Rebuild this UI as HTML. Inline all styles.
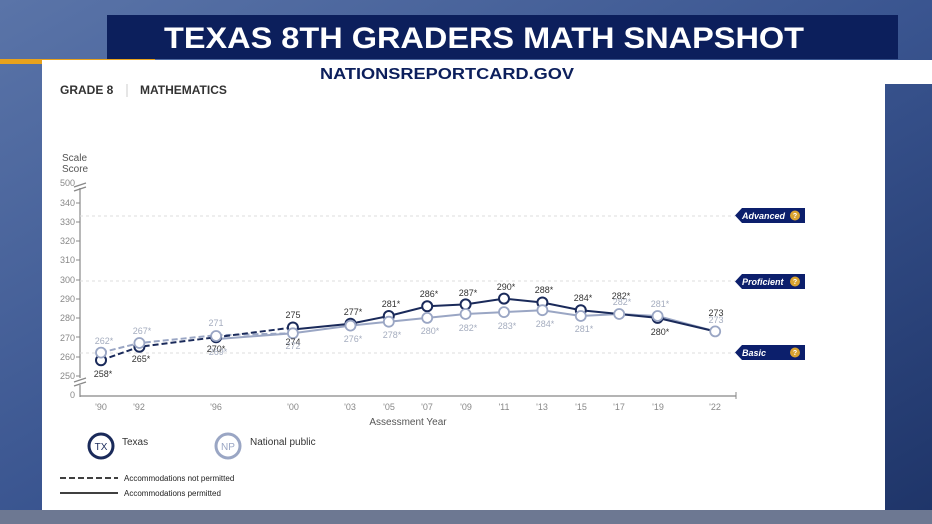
<!DOCTYPE html>
<html><head><meta charset="utf-8"><style>
html,body{margin:0;padding:0;width:932px;height:524px;overflow:hidden}
svg{display:block}
text{font-family:"Liberation Sans",sans-serif}
</style></head><body>
<svg width="932" height="524" viewBox="0 0 932 524" xmlns="http://www.w3.org/2000/svg">
<defs>
<linearGradient id="bg" x1="0" y1="0" x2="1" y2="1">
<stop offset="0" stop-color="#5a74a8"/><stop offset="0.5" stop-color="#3a5590"/><stop offset="1" stop-color="#1e3468"/>
</linearGradient>
</defs>
<rect width="932" height="524" fill="url(#bg)"/>
<rect x="0" y="510" width="932" height="14" fill="#6d7892"/>
<rect x="107" y="15" width="791" height="44" fill="#0c1f5c"/>
<text x="484" y="48" text-anchor="middle" font-size="30" font-weight="bold" fill="#fff" textLength="640" lengthAdjust="spacingAndGlyphs">TEXAS 8TH GRADERS MATH SNAPSHOT</text>
<rect x="0" y="59" width="155" height="5" fill="#e8a21c"/>
<rect x="42" y="60" width="890" height="24" fill="#fff"/>
<rect x="42" y="60" width="843" height="450" fill="#fff"/>
<text x="447" y="79" text-anchor="middle" font-size="16" font-weight="bold" fill="#0c1f5c" textLength="254" lengthAdjust="spacingAndGlyphs">NATIONSREPORTCARD.GOV</text>
<text x="60" y="94" font-size="12" font-weight="bold" fill="#333">GRADE 8</text>
<line x1="127" y1="84" x2="127" y2="97" stroke="#ccc"/>
<text x="140" y="94" font-size="12" font-weight="bold" fill="#333">MATHEMATICS</text>
<text x="62" y="161" font-size="10" fill="#555">Scale</text>
<text x="62" y="172" font-size="10" fill="#555">Score</text>
<!-- axes -->
<g stroke="#888" stroke-width="1.2" fill="none">
<line x1="80" y1="188" x2="80" y2="378"/>
<line x1="80" y1="385" x2="80" y2="397"/>
<line x1="80" y1="396" x2="736" y2="396"/>
<path d="M74 187 L86 183 M74 191 L86 187"/>
<path d="M74 382 L86 378 M74 386 L86 382"/>
</g>
<g font-size="9" fill="#888" text-anchor="end">
<text x="75" y="186">500</text><text x="75" y="206">340</text><text x="75" y="225">330</text><text x="75" y="244">320</text><text x="75" y="263">310</text><text x="75" y="283">300</text><text x="75" y="302">290</text><text x="75" y="321">280</text><text x="75" y="341">270</text><text x="75" y="360">260</text><text x="75" y="379">250</text><text x="75" y="398">0</text>
</g>
<g stroke="#888"><line x1="76" y1="203" x2="80" y2="203"/><line x1="76" y1="222" x2="80" y2="222"/><line x1="76" y1="241" x2="80" y2="241"/><line x1="76" y1="260" x2="80" y2="260"/><line x1="76" y1="280" x2="80" y2="280"/><line x1="76" y1="299" x2="80" y2="299"/><line x1="76" y1="318" x2="80" y2="318"/><line x1="76" y1="337" x2="80" y2="337"/><line x1="76" y1="357" x2="80" y2="357"/><line x1="76" y1="376" x2="80" y2="376"/><line x1="736" y1="392" x2="736" y2="399"/></g>
<g font-size="9" fill="#888" text-anchor="middle">
<text x="101" y="410">'90</text><text x="139" y="410">'92</text><text x="216" y="410">'96</text><text x="293" y="410">'00</text><text x="350" y="410">'03</text><text x="389" y="410">'05</text><text x="427" y="410">'07</text><text x="466" y="410">'09</text><text x="504" y="410">'11</text><text x="542" y="410">'13</text><text x="581" y="410">'15</text><text x="619" y="410">'17</text><text x="658" y="410">'19</text><text x="715" y="410">'22</text>
</g>
<text x="408" y="425" text-anchor="middle" font-size="10" fill="#555">Assessment Year</text>
<!-- level lines -->
<g stroke="#ddd" stroke-dasharray="3,3"><line x1="80" y1="216" x2="735" y2="216"/><line x1="80" y1="281" x2="735" y2="281"/><line x1="80" y1="353" x2="735" y2="353"/></g>
<g font-size="9" font-weight="bold" font-style="italic" fill="#fff">
<path d="M742 208 H805 V223 H742 L735 215.5 Z" fill="#0c1f6c"/><text x="742" y="219">Advanced</text>
<path d="M742 274 H805 V289 H742 L735 281.5 Z" fill="#0c1f6c"/><text x="742" y="285">Proficient</text>
<path d="M742 345 H805 V360 H742 L735 352.5 Z" fill="#0c1f6c"/><text x="742" y="356">Basic</text>
</g>
<g fill="#d9a330"><circle cx="795" cy="215.5" r="5"/><circle cx="795" cy="281.5" r="5"/><circle cx="795" cy="352.5" r="5"/></g>
<g font-size="7" fill="#fff" text-anchor="middle" font-weight="bold"><text x="795" y="218">?</text><text x="795" y="284">?</text><text x="795" y="355">?</text></g>
<!-- series -->
<g fill="none" stroke-width="2">
<polyline points="101,352.6 139.4,343 216.1,335.2 292.9,333.3" stroke="#9aa6c4" stroke-dasharray="6,3"/>
<polyline points="101,360.3 139.4,346.8 216.1,337.2 292.9,327.5" stroke="#1a2a5a" stroke-dasharray="6,3"/>
<polyline points="216.1,339.1 292.9,333.3 350.5,325.6 388.8,321.7 427.2,317.9 465.6,314 504,312.1 542.4,310.2 580.8,316 619.2,314 657.6,316 715.2,331.4" stroke="#9aa6c4"/>
<polyline points="292.9,329.5 350.5,323.7 388.8,316 427.2,306.3 465.6,304.4 504,298.6 542.4,302.5 580.8,310.2 619.2,314 657.6,317.9 715.2,331.4" stroke="#1a2a5a"/>
</g>
<g fill="#fff" stroke="#1a2a5a" stroke-width="2">
<circle cx="101" cy="360.3" r="5"/><circle cx="139.4" cy="346.8" r="5"/><circle cx="216.1" cy="337.2" r="5"/><circle cx="292.9" cy="327.5" r="5"/><circle cx="350.5" cy="323.7" r="5"/><circle cx="388.8" cy="316" r="5"/><circle cx="427.2" cy="306.3" r="5"/><circle cx="465.6" cy="304.4" r="5"/><circle cx="504" cy="298.6" r="5"/><circle cx="542.4" cy="302.5" r="5"/><circle cx="580.8" cy="310.2" r="5"/><circle cx="657.6" cy="317.9" r="5"/>
</g>
<g fill="#fff" stroke="#9aa6c4" stroke-width="1.8">
<circle cx="101" cy="352.6" r="5"/><circle cx="139.4" cy="343" r="5"/><circle cx="216.1" cy="336" r="5"/><circle cx="292.9" cy="333.3" r="5"/><circle cx="350.5" cy="325.6" r="5"/><circle cx="388.8" cy="321.7" r="5"/><circle cx="427.2" cy="317.9" r="5"/><circle cx="465.6" cy="314" r="5"/><circle cx="504" cy="312.1" r="5"/><circle cx="542.4" cy="310.2" r="5"/><circle cx="580.8" cy="316" r="5"/><circle cx="619.2" cy="314" r="5"/><circle cx="657.6" cy="316" r="5"/><circle cx="715.2" cy="331.4" r="5"/>
</g>
<g font-size="9" fill="#333" text-anchor="middle">
<text x="103" y="377">258*</text><text x="141" y="362">265*</text><text x="293" y="318">275</text><text x="353" y="315">277*</text><text x="391" y="307">281*</text><text x="429" y="297">286*</text><text x="468" y="296">287*</text><text x="506" y="290">290*</text><text x="544" y="293">288*</text><text x="583" y="301">284*</text><text x="621" y="299">282*</text><text x="660" y="335">280*</text><text x="716" y="316">273</text><text x="216" y="352">270*</text><text x="293" y="345">274</text>
</g>
<g font-size="9" fill="#a5adbf" text-anchor="middle">
<text x="104" y="344">262*</text><text x="142" y="334">267*</text><text x="216" y="326">271</text><text x="218" y="355">269*</text><text x="293" y="349">272</text><text x="353" y="342">276*</text><text x="392" y="338">278*</text><text x="430" y="334">280*</text><text x="468" y="331">282*</text><text x="507" y="329">283*</text><text x="545" y="327">284*</text><text x="584" y="332">281*</text><text x="622" y="305">282*</text><text x="660" y="307">281*</text><text x="716" y="323">273</text>
</g>
<!-- legend -->
<circle cx="101" cy="446" r="12" fill="#fff" stroke="#1a2a5a" stroke-width="3"/>
<text x="101" y="450" text-anchor="middle" font-size="10" fill="#1a2a5a">TX</text>
<text x="122" y="445" font-size="10" fill="#333">Texas</text>
<circle cx="228" cy="446" r="12" fill="#fff" stroke="#9aa6c4" stroke-width="3"/>
<text x="228" y="450" text-anchor="middle" font-size="10" fill="#9aa6c4">NP</text>
<text x="250" y="445" font-size="10" fill="#333">National public</text>
<line x1="60" y1="478" x2="118" y2="478" stroke="#000" stroke-width="1.5" stroke-dasharray="6,3"/>
<text x="124" y="481" font-size="8" fill="#222">Accommodations not permitted</text>
<line x1="60" y1="493" x2="118" y2="493" stroke="#000" stroke-width="1.5"/>
<text x="124" y="496" font-size="8" fill="#222">Accommodations permitted</text>
</svg>
</body></html>
